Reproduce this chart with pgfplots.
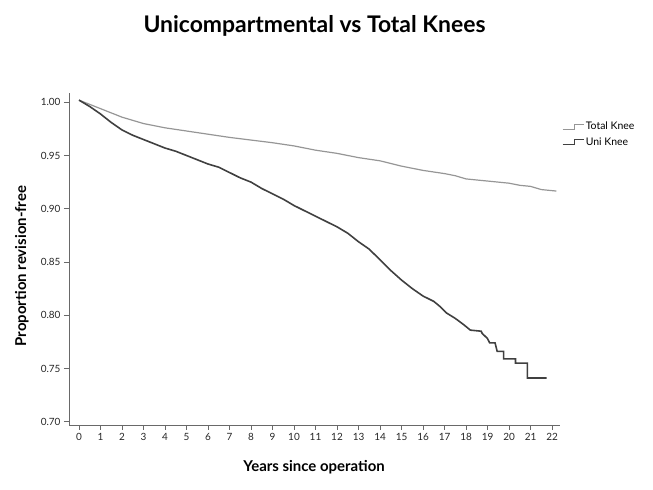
\documentclass[border=0pt]{standalone}
\usepackage{fontspec}
\setmainfont{Lato}
\usepackage{pgfplots}
\pgfplotsset{compat=1.18}
\usepackage{xcolor}

\definecolor{totalgray}{RGB}{150,150,150}
\definecolor{unigray}{RGB}{64,64,64}
\definecolor{axisgray}{RGB}{105,105,105}

\begin{document}
\begin{tikzpicture}
    \useasboundingbox (0,0) rectangle (653bp,490bp);

    % title and axis labels
    \node[anchor=base, font=\fontsize{23}{26}\selectfont\bfseries] at (314.5bp,457bp) {Unicompartmental vs Total Knees};
    \node[anchor=base, font=\fontsize{15}{18}\selectfont\bfseries] at (314bp,18.5bp) {Years since operation};
    \node[anchor=base, rotate=90, font=\fontsize{15}{18}\selectfont\bfseries] at (26bp,224bp) {Proportion revision-free};

    \begin{axis}[
        at={(69bp,65bp)},
        anchor=south west,
        scale only axis,
        width=491bp,
        height=332bp,
        xmin=-0.465, xmax=22.37,
        ymin=0.6969, ymax=1.0087,
        axis x line=bottom,
        axis y line=left,
        axis line style={-, draw=axisgray, line width=0.9bp},
        xtick={0,1,...,22},
        ytick={0.70,0.75,0.80,0.85,0.90,0.95,1.00},
        tick style={draw=axisgray, line width=0.9bp},
        tick align=outside,
        major tick length=5bp,
        ticklabel style={font=\fontsize{10}{11}\selectfont, text=black!85},
        yticklabel style={/pgf/number format/.cd, fixed, fixed zerofill, precision=2},
        /pgf/number format/assume math mode=true,
        legend style={at={(1.004,0.917)}, anchor=north west, draw=none, fill=none,
            font=\fontsize{10.5}{12}\selectfont, inner sep=0pt, row sep=3bp,
            nodes={inner sep=1.5bp}},
        legend cell align=left,
        legend image code/.code={
            \draw[#1, line width=1.1bp] (0bp,-2.5bp) -- (12bp,-2.5bp) -- (12bp,2.5bp) -- (21bp,2.5bp);
        },
    ]

    % Total Knee
    \addplot[color=totalgray, line width=1.2bp] coordinates {
        (0,1.002) (0.5,0.998) (1.0,0.994) (1.5,0.990) (2.0,0.986) (2.5,0.983)
        (3.0,0.980) (3.5,0.978) (4.0,0.976) (5.0,0.973) (6.0,0.970) (7.0,0.967)
        (8.0,0.9645) (9.0,0.962) (10.0,0.959) (11.0,0.955) (12.0,0.952) (13.0,0.948)
        (14.0,0.945) (15.0,0.940) (16.0,0.936) (17.0,0.933) (17.5,0.931) (18.0,0.928)
        (18.5,0.927) (19.0,0.926) (19.5,0.925) (20.0,0.924) (20.5,0.922) (21.0,0.921)
        (21.5,0.918) (22.0,0.917) (22.2,0.9166)
    };

    % Uni Knee
    \addplot[color=unigray, line width=1.6bp] coordinates {
        (0,1.002) (0.5,0.996) (1.0,0.989) (1.5,0.981) (2.0,0.974) (2.5,0.969)
        (3.0,0.965) (3.5,0.961) (4.0,0.957) (4.5,0.954) (5.0,0.950) (5.5,0.946)
        (6.0,0.942) (6.5,0.939) (7.0,0.934) (7.5,0.929) (8.0,0.925) (8.5,0.919)
        (9.0,0.914) (9.5,0.909) (10.0,0.903) (10.5,0.898) (11.0,0.893) (11.5,0.888)
        (12.0,0.883) (12.5,0.877) (13.0,0.869) (13.5,0.862) (14.0,0.852) (14.5,0.842)
        (15.0,0.833) (15.5,0.825) (16.0,0.818) (16.5,0.813) (16.8,0.808) (17.1,0.802)
        (17.5,0.797) (17.9,0.791) (18.2,0.786) (18.7,0.785) (18.75,0.783) (19.0,0.778)
        (19.1,0.774) (19.35,0.774) (19.45,0.766) (19.75,0.766) (19.75,0.759) (20.3,0.759)
        (20.3,0.755) (20.85,0.755) (20.85,0.741) (21.75,0.741)
    };

    \legend{Total Knee, Uni Knee}
    \end{axis}
\end{tikzpicture}
\end{document}
